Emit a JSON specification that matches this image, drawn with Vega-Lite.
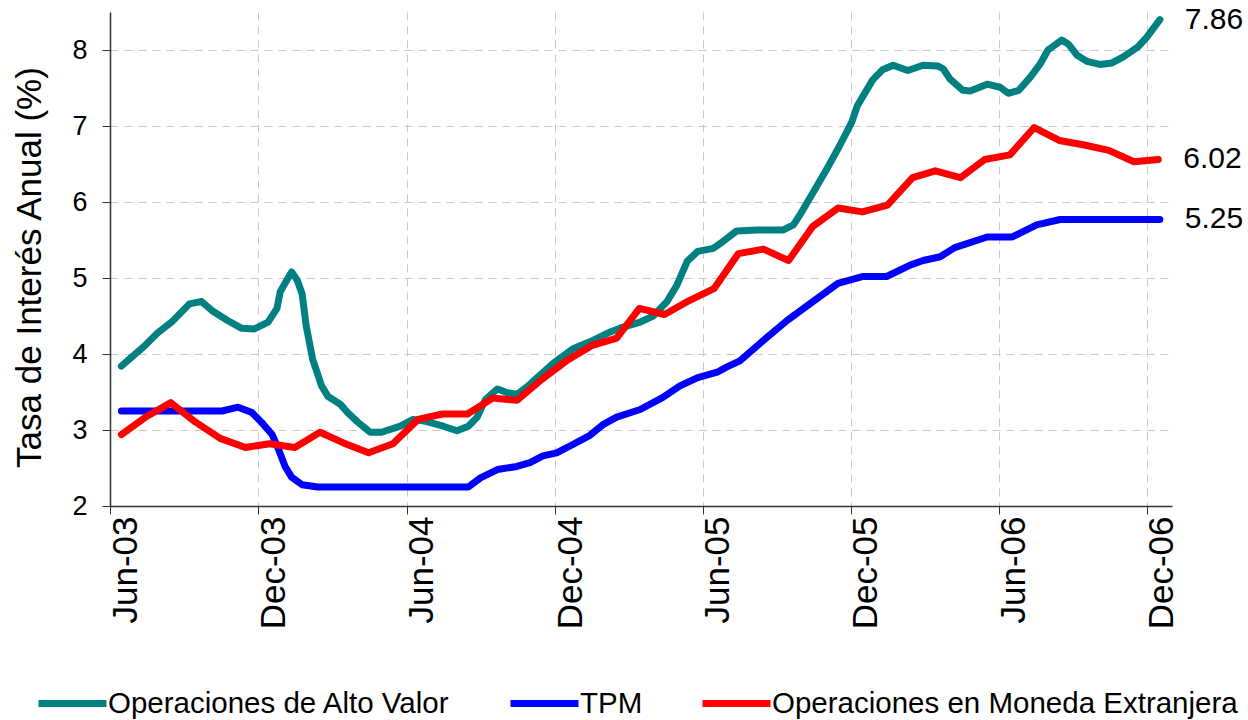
{
  "$schema": "https://vega.github.io/schema/vega-lite/v6.json",
  "width": 1062,
  "height": 494,
  "autosize": {"type": "none"},
  "padding": {"left": 110, "top": 12, "right": 76, "bottom": 214},
  "background": "white",
  "config": {"view": {"stroke": null}, "font": "Liberation Sans", "legend": {"padding": 0}},
  "encoding": {
    "x": {
      "field": "d", "type": "temporal",
      "scale": {"type": "utc", "domain": [{"year": 2003, "month": 6, "date": 1, "utc": true}, {"year": 2007, "month": 1, "date": 1, "utc": true}]},
      "axis": {
        "title": null,
        "values": [
          {"year": 2003, "month": 6, "date": 1, "utc": true},
          {"year": 2003, "month": 12, "date": 1, "utc": true},
          {"year": 2004, "month": 6, "date": 1, "utc": true},
          {"year": 2004, "month": 12, "date": 1, "utc": true},
          {"year": 2005, "month": 6, "date": 1, "utc": true},
          {"year": 2005, "month": 12, "date": 1, "utc": true},
          {"year": 2006, "month": 6, "date": 1, "utc": true},
          {"year": 2006, "month": 12, "date": 1, "utc": true}
        ],
        "format": "%b-%y",
        "labelAngle": 270, "labelAlign": "right", "labelBaseline": "top",
        "labelFontSize": 35, "labelPadding": 2, "labelColor": "black",
        "labelFlush": false, "labelOverlap": false, "labelOffset": -2,
        "ticks": true, "tickSize": 8, "tickColor": "#333", "domainColor": "#333", "domainWidth": 1.5,
        "grid": true, "gridDash": [8, 6], "gridColor": "#c8c8c8"
      }
    },
    "y": {
      "field": "v", "type": "quantitative",
      "scale": {"domain": [2, 8.5], "nice": false, "zero": false},
      "axis": {
        "title": "Tasa de Interés Anual (%)",
        "values": [2, 3, 4, 5, 6, 7, 8], "format": "d",
        "labelFontSize": 27, "labelPadding": 15, "labelColor": "black",
        "ticks": true, "tickSize": 8, "tickColor": "#333", "domainColor": "#333", "domainWidth": 1.5,
        "grid": true, "gridDash": [8, 6], "gridColor": "#c8c8c8",
        "titleFontSize": 35, "titleFontWeight": "normal", "titleColor": "black",
        "titleX": -70, "titleY": 255, "titleAngle": 270, "titleAlign": "center", "titleBaseline": "alphabetic"
      }
    }
  },
  "layer": [
    {
      "data": {"values": [
        {"d": "2003-06-15", "v": 3.84}, {"d": "2003-07-14", "v": 4.11}, {"d": "2003-07-30", "v": 4.28},
        {"d": "2003-08-16", "v": 4.42}, {"d": "2003-09-07", "v": 4.66}, {"d": "2003-09-22", "v": 4.69},
        {"d": "2003-10-05", "v": 4.57}, {"d": "2003-10-24", "v": 4.44}, {"d": "2003-11-10", "v": 4.34},
        {"d": "2003-11-26", "v": 4.33}, {"d": "2003-12-13", "v": 4.42}, {"d": "2003-12-24", "v": 4.60},
        {"d": "2003-12-28", "v": 4.82}, {"d": "2004-01-05", "v": 4.97}, {"d": "2004-01-11", "v": 5.08},
        {"d": "2004-01-18", "v": 4.97}, {"d": "2004-01-24", "v": 4.79}, {"d": "2004-01-29", "v": 4.37},
        {"d": "2004-02-06", "v": 3.93}, {"d": "2004-02-17", "v": 3.58}, {"d": "2004-02-25", "v": 3.44},
        {"d": "2004-03-11", "v": 3.34}, {"d": "2004-03-20", "v": 3.23}, {"d": "2004-04-02", "v": 3.10},
        {"d": "2004-04-17", "v": 2.97}, {"d": "2004-05-01", "v": 2.97}, {"d": "2004-05-24", "v": 3.05},
        {"d": "2004-06-09", "v": 3.14}, {"d": "2004-06-26", "v": 3.11}, {"d": "2004-07-16", "v": 3.05},
        {"d": "2004-08-02", "v": 2.99}, {"d": "2004-08-16", "v": 3.05}, {"d": "2004-08-27", "v": 3.17},
        {"d": "2004-09-06", "v": 3.40}, {"d": "2004-09-21", "v": 3.54}, {"d": "2004-10-03", "v": 3.49},
        {"d": "2004-10-15", "v": 3.47}, {"d": "2004-10-29", "v": 3.58}, {"d": "2004-11-09", "v": 3.69},
        {"d": "2004-11-28", "v": 3.87}, {"d": "2004-12-23", "v": 4.07}, {"d": "2005-01-13", "v": 4.16},
        {"d": "2005-02-07", "v": 4.29}, {"d": "2005-02-19", "v": 4.34}, {"d": "2005-03-16", "v": 4.42},
        {"d": "2005-04-01", "v": 4.50}, {"d": "2005-04-18", "v": 4.69}, {"d": "2005-04-30", "v": 4.90},
        {"d": "2005-05-13", "v": 5.22}, {"d": "2005-05-26", "v": 5.35}, {"d": "2005-06-14", "v": 5.39},
        {"d": "2005-06-26", "v": 5.48}, {"d": "2005-07-13", "v": 5.62}, {"d": "2005-08-07", "v": 5.63},
        {"d": "2005-09-08", "v": 5.63}, {"d": "2005-09-21", "v": 5.70}, {"d": "2005-09-29", "v": 5.83},
        {"d": "2005-10-20", "v": 6.21}, {"d": "2005-11-01", "v": 6.43}, {"d": "2005-11-17", "v": 6.74},
        {"d": "2005-12-02", "v": 7.05}, {"d": "2005-12-09", "v": 7.27}, {"d": "2005-12-28", "v": 7.61},
        {"d": "2006-01-09", "v": 7.74}, {"d": "2006-01-22", "v": 7.80}, {"d": "2006-02-09", "v": 7.73},
        {"d": "2006-02-28", "v": 7.80}, {"d": "2006-03-18", "v": 7.79}, {"d": "2006-03-25", "v": 7.75},
        {"d": "2006-04-02", "v": 7.62}, {"d": "2006-04-18", "v": 7.47}, {"d": "2006-04-27", "v": 7.46},
        {"d": "2006-05-18", "v": 7.55}, {"d": "2006-06-03", "v": 7.51}, {"d": "2006-06-13", "v": 7.43},
        {"d": "2006-06-26", "v": 7.47}, {"d": "2006-07-10", "v": 7.64}, {"d": "2006-07-22", "v": 7.81},
        {"d": "2006-08-01", "v": 8.00}, {"d": "2006-08-18", "v": 8.13}, {"d": "2006-08-26", "v": 8.08},
        {"d": "2006-09-06", "v": 7.93}, {"d": "2006-09-18", "v": 7.85}, {"d": "2006-10-04", "v": 7.81},
        {"d": "2006-10-19", "v": 7.83}, {"d": "2006-11-02", "v": 7.91}, {"d": "2006-11-20", "v": 8.04},
        {"d": "2006-12-01", "v": 8.17}, {"d": "2006-12-17", "v": 8.40}
      ]},
      "mark": {"type": "line", "strokeWidth": 7, "strokeCap": "round", "strokeJoin": "round"},
      "encoding": {
        "color": {
          "datum": "Operaciones de Alto Valor",
          "scale": {"domain": ["Operaciones de Alto Valor", "TPM", "Operaciones en Moneda Extranjera"], "range": ["#008080", "#0000ff", "#ff0000"]},
          "legend": {
            "orient": "none", "legendX": -75, "legendY": 654, "direction": "horizontal", "title": null,
            "symbolType": "stroke", "symbolSize": 4624, "symbolStrokeWidth": 7,
            "labelFont": "Liberation Sans", "labelFontSize": 29.5, "labelColor": "black",
            "labelOffset": -2, "columnPadding": 45, "labelLimit": 700
          }
        }
      }
    },
    {
      "data": {"values": [
        {"d": "2003-06-15", "v": 3.25}, {"d": "2003-10-17", "v": 3.25}, {"d": "2003-11-06", "v": 3.30},
        {"d": "2003-11-23", "v": 3.23}, {"d": "2003-12-05", "v": 3.10}, {"d": "2003-12-18", "v": 2.94},
        {"d": "2003-12-25", "v": 2.77}, {"d": "2004-01-03", "v": 2.52}, {"d": "2004-01-11", "v": 2.38},
        {"d": "2004-01-24", "v": 2.28}, {"d": "2004-02-12", "v": 2.25}, {"d": "2004-08-16", "v": 2.25},
        {"d": "2004-08-31", "v": 2.37}, {"d": "2004-09-21", "v": 2.48}, {"d": "2004-10-15", "v": 2.52},
        {"d": "2004-10-31", "v": 2.57}, {"d": "2004-11-16", "v": 2.66}, {"d": "2004-12-03", "v": 2.70},
        {"d": "2004-12-16", "v": 2.77}, {"d": "2005-01-13", "v": 2.93}, {"d": "2005-01-29", "v": 3.07},
        {"d": "2005-02-15", "v": 3.17}, {"d": "2005-03-16", "v": 3.27}, {"d": "2005-04-13", "v": 3.43},
        {"d": "2005-05-04", "v": 3.58}, {"d": "2005-05-26", "v": 3.69}, {"d": "2005-06-19", "v": 3.76},
        {"d": "2005-07-01", "v": 3.83}, {"d": "2005-07-17", "v": 3.91}, {"d": "2005-08-14", "v": 4.17},
        {"d": "2005-09-13", "v": 4.44}, {"d": "2005-10-15", "v": 4.69}, {"d": "2005-11-15", "v": 4.93},
        {"d": "2005-12-16", "v": 5.02}, {"d": "2006-01-14", "v": 5.02}, {"d": "2006-02-12", "v": 5.17},
        {"d": "2006-02-28", "v": 5.23}, {"d": "2006-03-21", "v": 5.28}, {"d": "2006-04-08", "v": 5.40},
        {"d": "2006-05-18", "v": 5.54}, {"d": "2006-06-18", "v": 5.54}, {"d": "2006-07-18", "v": 5.70},
        {"d": "2006-08-16", "v": 5.77}, {"d": "2006-12-17", "v": 5.77}
      ]},
      "mark": {"type": "line", "strokeWidth": 7, "strokeCap": "round", "strokeJoin": "round"},
      "encoding": {"color": {"datum": "TPM"}}
    },
    {
      "data": {"values": [
        {"d": "2003-06-15", "v": 2.94}, {"d": "2003-07-15", "v": 3.17}, {"d": "2003-08-15", "v": 3.36},
        {"d": "2003-09-15", "v": 3.10}, {"d": "2003-10-15", "v": 2.89}, {"d": "2003-11-15", "v": 2.77},
        {"d": "2003-12-15", "v": 2.82}, {"d": "2004-01-15", "v": 2.77}, {"d": "2004-02-15", "v": 2.97},
        {"d": "2004-03-15", "v": 2.83}, {"d": "2004-04-15", "v": 2.70}, {"d": "2004-05-15", "v": 2.82},
        {"d": "2004-06-15", "v": 3.14}, {"d": "2004-07-15", "v": 3.21}, {"d": "2004-08-15", "v": 3.21},
        {"d": "2004-09-15", "v": 3.42}, {"d": "2004-10-15", "v": 3.39}, {"d": "2004-11-15", "v": 3.67},
        {"d": "2004-12-15", "v": 3.91}, {"d": "2005-01-15", "v": 4.11}, {"d": "2005-02-15", "v": 4.21},
        {"d": "2005-03-15", "v": 4.60}, {"d": "2005-04-15", "v": 4.52}, {"d": "2005-05-15", "v": 4.70},
        {"d": "2005-06-15", "v": 4.86}, {"d": "2005-07-15", "v": 5.32}, {"d": "2005-08-15", "v": 5.38},
        {"d": "2005-09-15", "v": 5.23}, {"d": "2005-10-15", "v": 5.68}, {"d": "2005-11-15", "v": 5.92},
        {"d": "2005-12-15", "v": 5.87}, {"d": "2006-01-15", "v": 5.96}, {"d": "2006-02-15", "v": 6.32},
        {"d": "2006-03-15", "v": 6.41}, {"d": "2006-04-15", "v": 6.32}, {"d": "2006-05-15", "v": 6.56},
        {"d": "2006-06-15", "v": 6.62}, {"d": "2006-07-15", "v": 6.98}, {"d": "2006-08-15", "v": 6.81},
        {"d": "2006-09-15", "v": 6.75}, {"d": "2006-10-15", "v": 6.68}, {"d": "2006-11-15", "v": 6.53},
        {"d": "2006-12-15", "v": 6.56}
      ]},
      "mark": {"type": "line", "strokeWidth": 7, "strokeCap": "round", "strokeJoin": "round"},
      "encoding": {"color": {"datum": "Operaciones en Moneda Extranjera"}}
    },
    {
      "data": {"values": [
        {"d": "2006-12-17", "v": 8.40, "t": "7.86"},
        {"d": "2006-12-15", "v": 6.56, "t": "6.02"},
        {"d": "2006-12-17", "v": 5.77, "t": "5.25"}
      ]},
      "mark": {"type": "text", "align": "left", "baseline": "middle", "dx": 25, "fontSize": 30, "font": "Liberation Sans", "color": "black"},
      "encoding": {"text": {"field": "t"}}
    }
  ]
}
